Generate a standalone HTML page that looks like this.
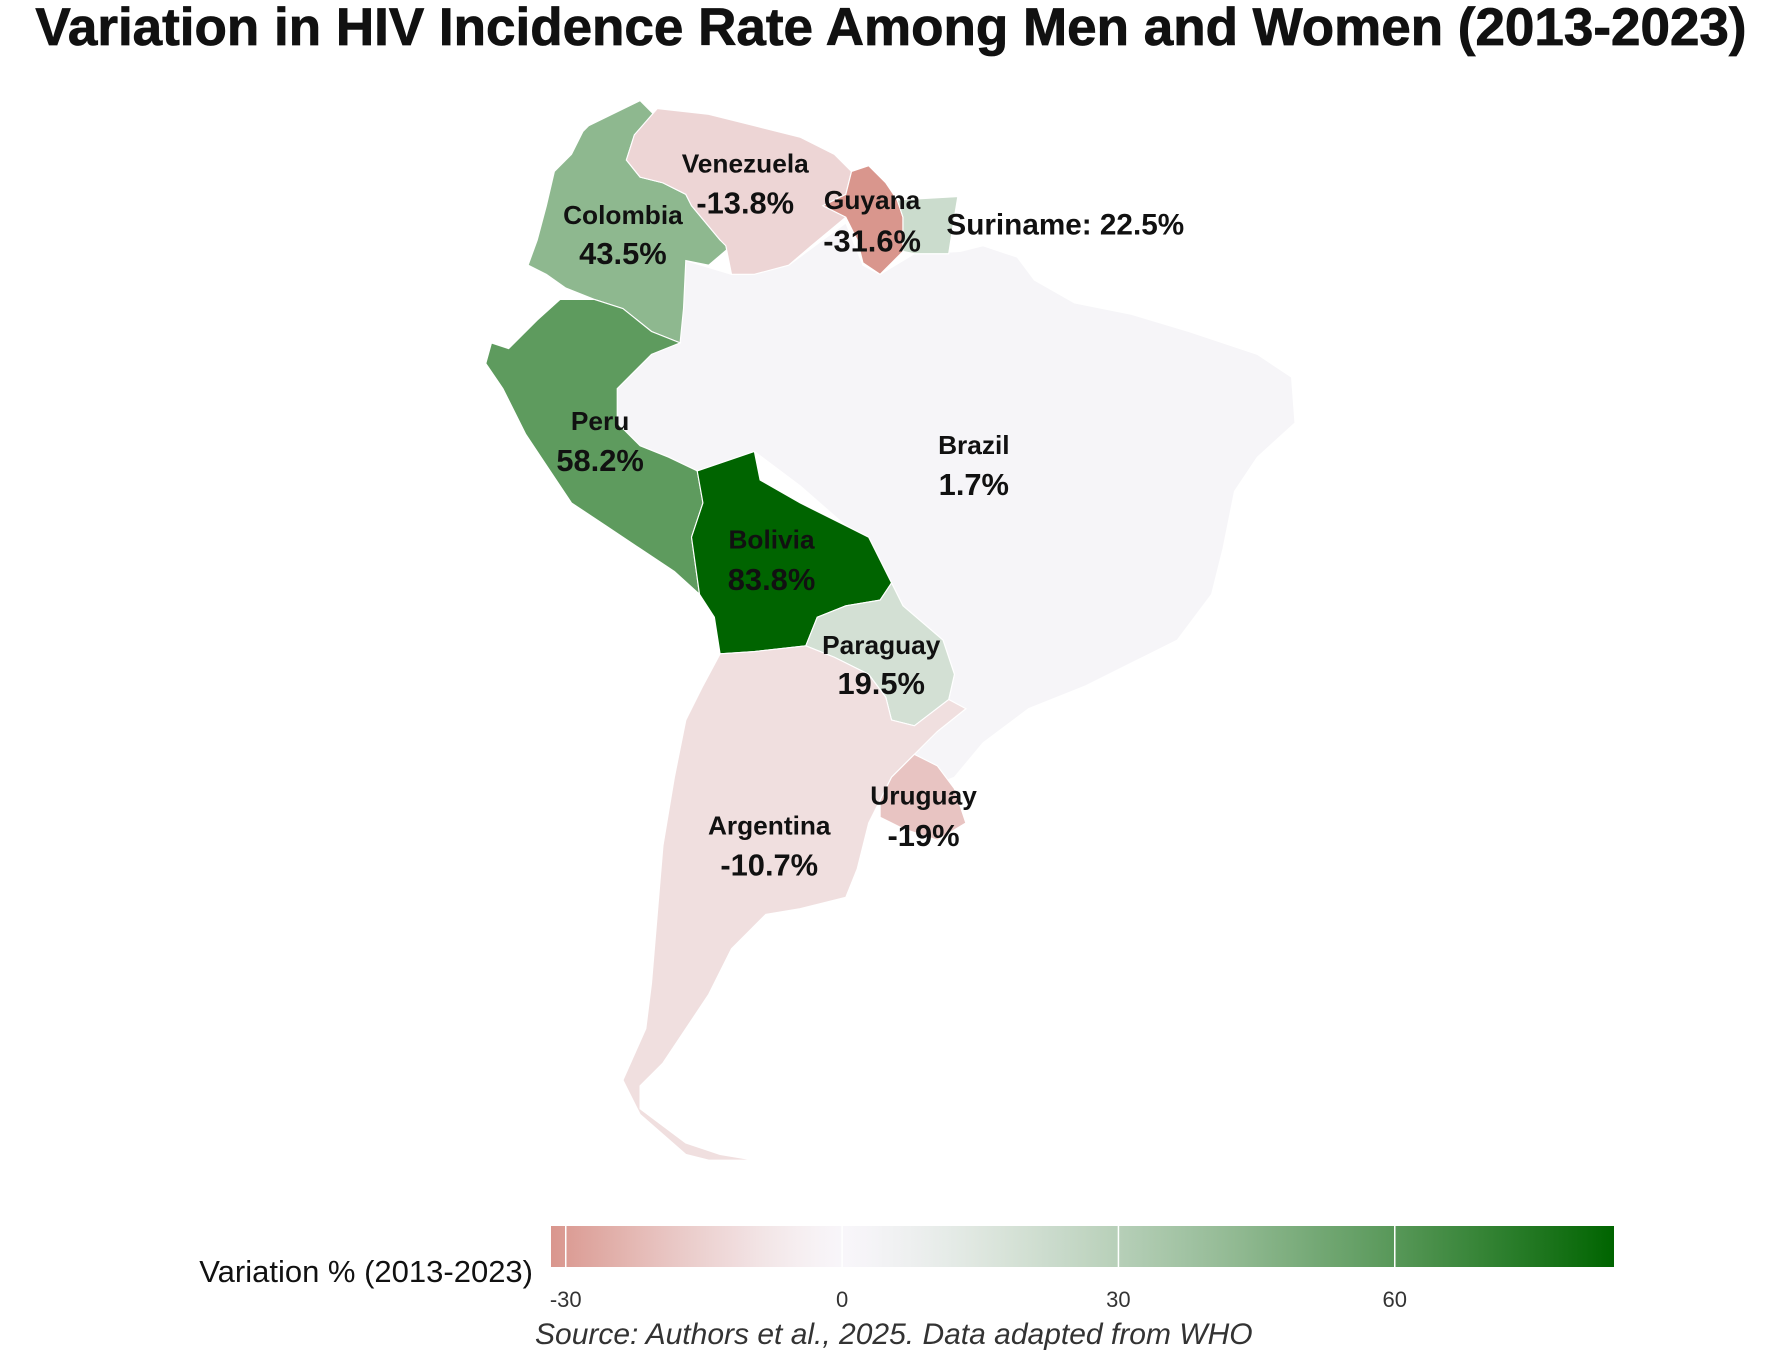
<!DOCTYPE html>
<html><head><meta charset="utf-8">
<style>
html,body{margin:0;padding:0;background:#fff;}
svg{display:block;font-family:"Liberation Sans",Arial,sans-serif;}
</style></head>
<body>
<svg id="chart" width="1783" height="1359" viewBox="0 0 1783 1359">
<text x="891" y="45" text-anchor="middle" font-size="53" font-weight="bold" fill="#111" stroke="#111" stroke-width="0.8">Variation in HIV Incidence Rate Among Men and Women (2013-2023)</text>
<g id="map" transform="scale(1.143)"></g>
<g id="legend"></g>
<text x="535" y="1344" font-size="30" font-style="italic" fill="#333">Source: Authors et al., 2025. Data adapted from WHO</text>
</svg>
<script>
const countries = ["Brazil","Colombia","Venezuela","Guyana","Suriname","Peru","Bolivia","Paraguay","Argentina","Uruguay"];
const values = [1.7, 43.5, -13.8, -31.6, 22.5, 58.2, 83.8, 19.5, -10.7, -19];
const tickValues = [-30, 0, 30, 60];
const tickLabels = ["-30", "0", "30", "60"];
const domainMin = -31.6, domainMax = 83.8;

const shapes = {
Brazil:"600,228 640,240 690,232 740,195 755,232 770,240 800,222 840,220 860,215 890,225 905,245 940,265 990,275 1040,290 1100,310 1130,330 1133,370 1100,400 1080,430 1070,480 1060,520 1030,560 990,580 950,600 900,620 860,650 835,680 810,690 790,665 820,640 845,620 830,612 835,590 825,560 790,530 780,510 760,470 740,460 700,425 660,395 610,412 585,400 560,390 540,370 540,340 570,310 590,300 598,270",
Colombia:"515,110 560,88 572,100 555,118 548,140 560,155 580,160 600,170 605,180 630,210 640,215 620,232 600,228 598,270 595,300 570,290 545,270 520,262 495,252 478,240 462,232 470,210 478,180 485,150 500,135 510,115",
Venezuela:"555,118 575,95 620,100 660,110 700,120 730,135 745,150 740,170 720,180 740,190 710,215 690,232 660,240 640,240 635,215 630,210 605,180 600,170 580,160 560,155 548,140",
Guyana:"745,150 760,145 775,160 785,175 790,190 790,220 770,240 755,230 750,210 740,190 720,180 740,170",
Suriname:"785,175 838,172 835,190 830,222 800,222 790,220 790,190",
Peru:"520,262 545,270 570,290 595,300 570,310 540,340 540,370 560,390 585,400 610,412 615,440 605,470 612,520 590,500 560,480 530,460 500,440 480,410 460,380 440,340 425,318 430,300 445,305 470,280 490,262",
Bolivia:"610,412 660,395 665,420 700,440 740,460 760,470 780,510 770,525 740,530 715,540 705,565 660,570 630,572 625,540 612,520 605,470 615,440",
Paraguay:"715,540 740,530 770,525 780,510 790,530 825,560 835,590 830,612 800,635 780,630 775,610 760,590 730,575 705,565",
Argentina:"630,572 660,570 705,565 730,575 760,590 775,610 780,630 800,635 830,612 845,620 820,640 800,660 780,680 770,700 760,720 750,760 740,785 700,795 670,800 640,830 620,870 600,900 580,930 560,950 560,970 600,1000 630,1010 660,1015 620,1015 600,1010 560,975 545,945 565,900 570,860 575,800 580,740 590,680 600,630 615,600",
Uruguay:"770,700 780,680 800,660 820,670 835,690 845,720 820,735 790,725 770,715"
};
const labelPos = {
Brazil:[852,389,423], Colombia:[545,188,221], Venezuela:[652,143,177], Guyana:[763,175,210],
Peru:[525,368,402], Bolivia:[675,472,506], Paraguay:[771,564,597], Argentina:[673,722,756], Uruguay:[808,696,730]
};

function mix(a,b,t){return a.map((v,i)=>Math.round(v+(b[i]-v)*t));}
const LOW=[217,150,141], MID=[248,246,250], HIGH=[0,100,0];
function colorFor(v){
  let c;
  if(v<0){c=mix(MID,LOW,Math.pow(Math.min(1,v/domainMin),1.3));}
  else{c=mix(MID,HIGH,Math.pow(Math.min(1,v/domainMax),1.3));}
  return "rgb("+c.join(",")+")";
}
const NS="http://www.w3.org/2000/svg";
const map=document.getElementById("map");
countries.forEach((name,i)=>{
  const p=document.createElementNS(NS,"polygon");
  p.setAttribute("points",shapes[name]);
  p.setAttribute("fill",colorFor(values[i]));
  p.setAttribute("stroke","#ffffff");
  p.setAttribute("stroke-width","1");
  
  
  map.appendChild(p);
});
function fmt(v){return (Math.round(v*10)/10)+"%";}
countries.forEach((name,i)=>{
  if(name==="Suriname"){
    const t=document.createElementNS(NS,"text");
    t.setAttribute("x",932);t.setAttribute("y",205);
    t.setAttribute("text-anchor","middle");t.setAttribute("font-size","26");t.setAttribute("font-weight","bold");t.setAttribute("fill","#111");
    t.textContent="Suriname: "+fmt(values[i]);
    
    
    map.appendChild(t);return;
  }
  const lp=labelPos[name];
  const t1=document.createElementNS(NS,"text");
  t1.setAttribute("x",lp[0]);t1.setAttribute("y",lp[1]+8);
  t1.setAttribute("text-anchor","middle");t1.setAttribute("font-size","23");t1.setAttribute("font-weight","bold");t1.setAttribute("fill","#111");
  t1.textContent=name;
  
  
  map.appendChild(t1);
  const t2=document.createElementNS(NS,"text");
  t2.setAttribute("x",lp[0]);t2.setAttribute("y",lp[2]+10);
  t2.setAttribute("text-anchor","middle");t2.setAttribute("font-size","27");t2.setAttribute("font-weight","bold");t2.setAttribute("fill","#111");
  t2.textContent=fmt(values[i]);
  
  
  map.appendChild(t2);
});

// legend
const lg=document.getElementById("legend");
const barX0=551, barX1=1614, barY=1226, barH=41;
const xs=v=>barX0+(v-domainMin)/(domainMax-domainMin)*(barX1-barX0);
const defs=document.createElementNS(NS,"defs");
const grad=document.createElementNS(NS,"linearGradient");
grad.setAttribute("id","cbar");
for(let k=0;k<=40;k++){
  const v=domainMin+(domainMax-domainMin)*k/40;
  const s=document.createElementNS(NS,"stop");
  s.setAttribute("offset",(k/40*100)+"%");
  s.setAttribute("stop-color",colorFor(v));
  grad.appendChild(s);
}
defs.appendChild(grad);lg.appendChild(defs);
const bar=document.createElementNS(NS,"rect");
bar.setAttribute("x",barX0);bar.setAttribute("y",barY);bar.setAttribute("width",barX1-barX0);bar.setAttribute("height",barH);
bar.setAttribute("fill","url(#cbar)");


lg.appendChild(bar);
tickValues.forEach((v,i)=>{
  const x=xs(v);
  const ln=document.createElementNS(NS,"line");
  ln.setAttribute("x1",x);ln.setAttribute("x2",x);ln.setAttribute("y1",barY);ln.setAttribute("y2",barY+barH);
  ln.setAttribute("stroke","#fff");ln.setAttribute("stroke-width","1.5");
  
  
  lg.appendChild(ln);
  const t=document.createElementNS(NS,"text");
  t.setAttribute("x",x);t.setAttribute("y",1307);t.setAttribute("text-anchor","middle");
  t.setAttribute("font-size","22");t.setAttribute("fill","#333");
  t.textContent=tickLabels[i];
  
  
  lg.appendChild(t);
});
const lt=document.createElementNS(NS,"text");
lt.setAttribute("x",533);lt.setAttribute("y",1282);lt.setAttribute("text-anchor","end");
lt.setAttribute("font-size","31");lt.setAttribute("fill","#111");
lt.textContent="Variation % (2013-2023)";


lg.appendChild(lt);
</script>
</body></html>
